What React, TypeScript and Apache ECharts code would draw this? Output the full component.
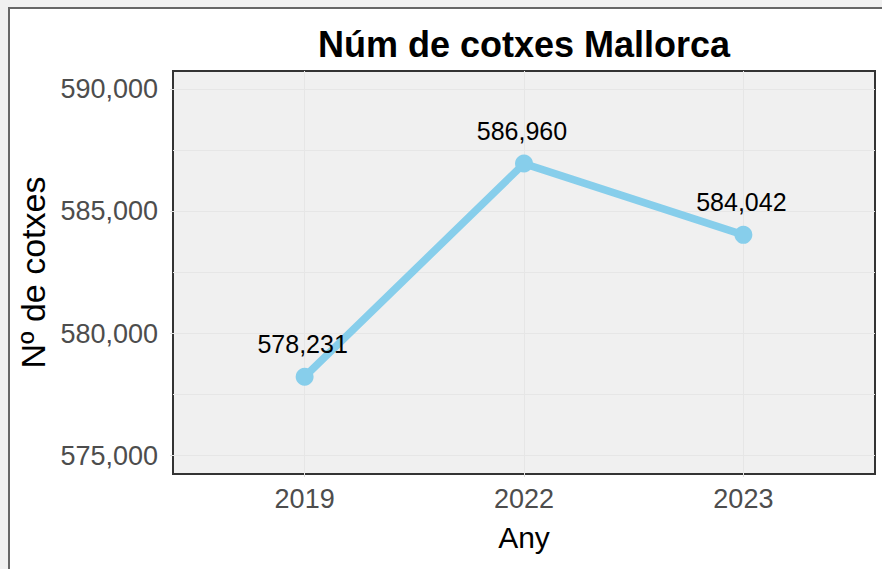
import React, { useEffect, useRef } from "react";
import * as echarts from "echarts";

const years = ["2019", "2022", "2023"];
const cars = [578231, 586960, 584042];
const yTicks = [575000, 580000, 585000, 590000];
const yMinorLines = [577500, 582500, 587500];

const FONT = "'Liberation Sans', Arial, sans-serif";
const fmt = (v: number) => v.toLocaleString("en-US");

export default function App() {
  const ref = useRef<HTMLDivElement>(null);
  useEffect(() => {
    if (!ref.current) return;
    const chart = echarts.init(ref.current, undefined, { renderer: "svg" });
    const gridColor = "#E6E6E6";
    chart.setOption({
      animation: false,
      backgroundColor: "transparent",
      textStyle: { fontFamily: FONT },
      title: {
        text: "Núm de cotxes Mallorca",
        left: 519,
        top: 21,
        textAlign: "center",
        textStyle: { fontFamily: FONT, fontSize: 36, fontWeight: "bold", color: "#000" },
      },
      grid: {
        left: 173,
        right: 7,
        top: 71,
        bottom: 95,
        show: true,
        backgroundColor: "#F0F0F0",
        borderColor: "#333",
        borderWidth: 2,
        containLabel: false,
      },
      xAxis: {
        type: "value",
        min: 0.4,
        max: 3.6,
        name: "Any",
        nameLocation: "middle",
        nameGap: 48,
        nameTextStyle: { fontFamily: FONT, fontSize: 30, color: "#000" },
        axisLine: { show: false },
        axisTick: { show: true, customValues: [1, 2, 3], length: 3, lineStyle: { color: "#E0E0E0" } },
        axisLabel: {
          customValues: [1, 2, 3],
          formatter: (v: number) => years[Math.round(v) - 1] ?? "",
          fontFamily: FONT,
          fontSize: 27,
          color: "#4D4D4D",
          margin: 11,
        },
        splitLine: { show: true, lineStyle: { color: gridColor, width: 1 } },
      },
      yAxis: {
        type: "value",
        min: 574250,
        max: 590750,
        name: "Nº de cotxes",
        nameLocation: "middle",
        nameGap: 116,
        nameTextStyle: { fontFamily: FONT, fontSize: 34, color: "#000" },
        axisLine: { show: false },
        axisTick: { show: true, customValues: yTicks, length: 3, lineStyle: { color: "#E0E0E0" } },
        axisLabel: {
          customValues: yTicks,
          formatter: (v: number) => fmt(v),
          fontFamily: FONT,
          fontSize: 27,
          color: "#4D4D4D",
          margin: 15,
        },
        splitLine: { show: true, lineStyle: { color: gridColor, width: 1 } },
      },
      series: [
        {
          type: "line",
          data: years.map((_, i) => [i + 1, cars[i]]),
          lineStyle: { color: "#87CEEB", width: 7.5 },
          itemStyle: { color: "#87CEEB" },
          symbol: "circle",
          symbolSize: 18,
          showAllSymbol: true,
          label: {
            show: true,
            position: "top",
            distance: 11,
            offset: [-2, 0],
            formatter: (p: any) => fmt(p.value[1]),
            fontFamily: FONT,
            fontSize: 25,
            color: "#000",
          },
          markLine: {
            silent: true,
            symbol: "none",
            label: { show: false },
            lineStyle: { color: gridColor, width: 1, type: "solid" },
            data: yMinorLines.map((v) => ({ yAxis: v })),
            z: 1,
          },
          z: 3,
        },
      ],
    });
    return () => chart.dispose();
  }, []);

  return (
    <div style={{ position: "fixed", left: 0, top: 0, width: 882, height: 569, background: "#F0F0F0", overflow: "hidden" }}>
      <div
        style={{
          position: "absolute",
          left: 8,
          top: 7,
          width: 882,
          height: 569,
          background: "#FFFFFF",
          borderLeft: "2px solid #666",
          borderTop: "2px solid #666",
        }}
      />
      <div ref={ref} style={{ position: "absolute", left: 0, top: 0, width: 882, height: 569 }} />
    </div>
  );
}
